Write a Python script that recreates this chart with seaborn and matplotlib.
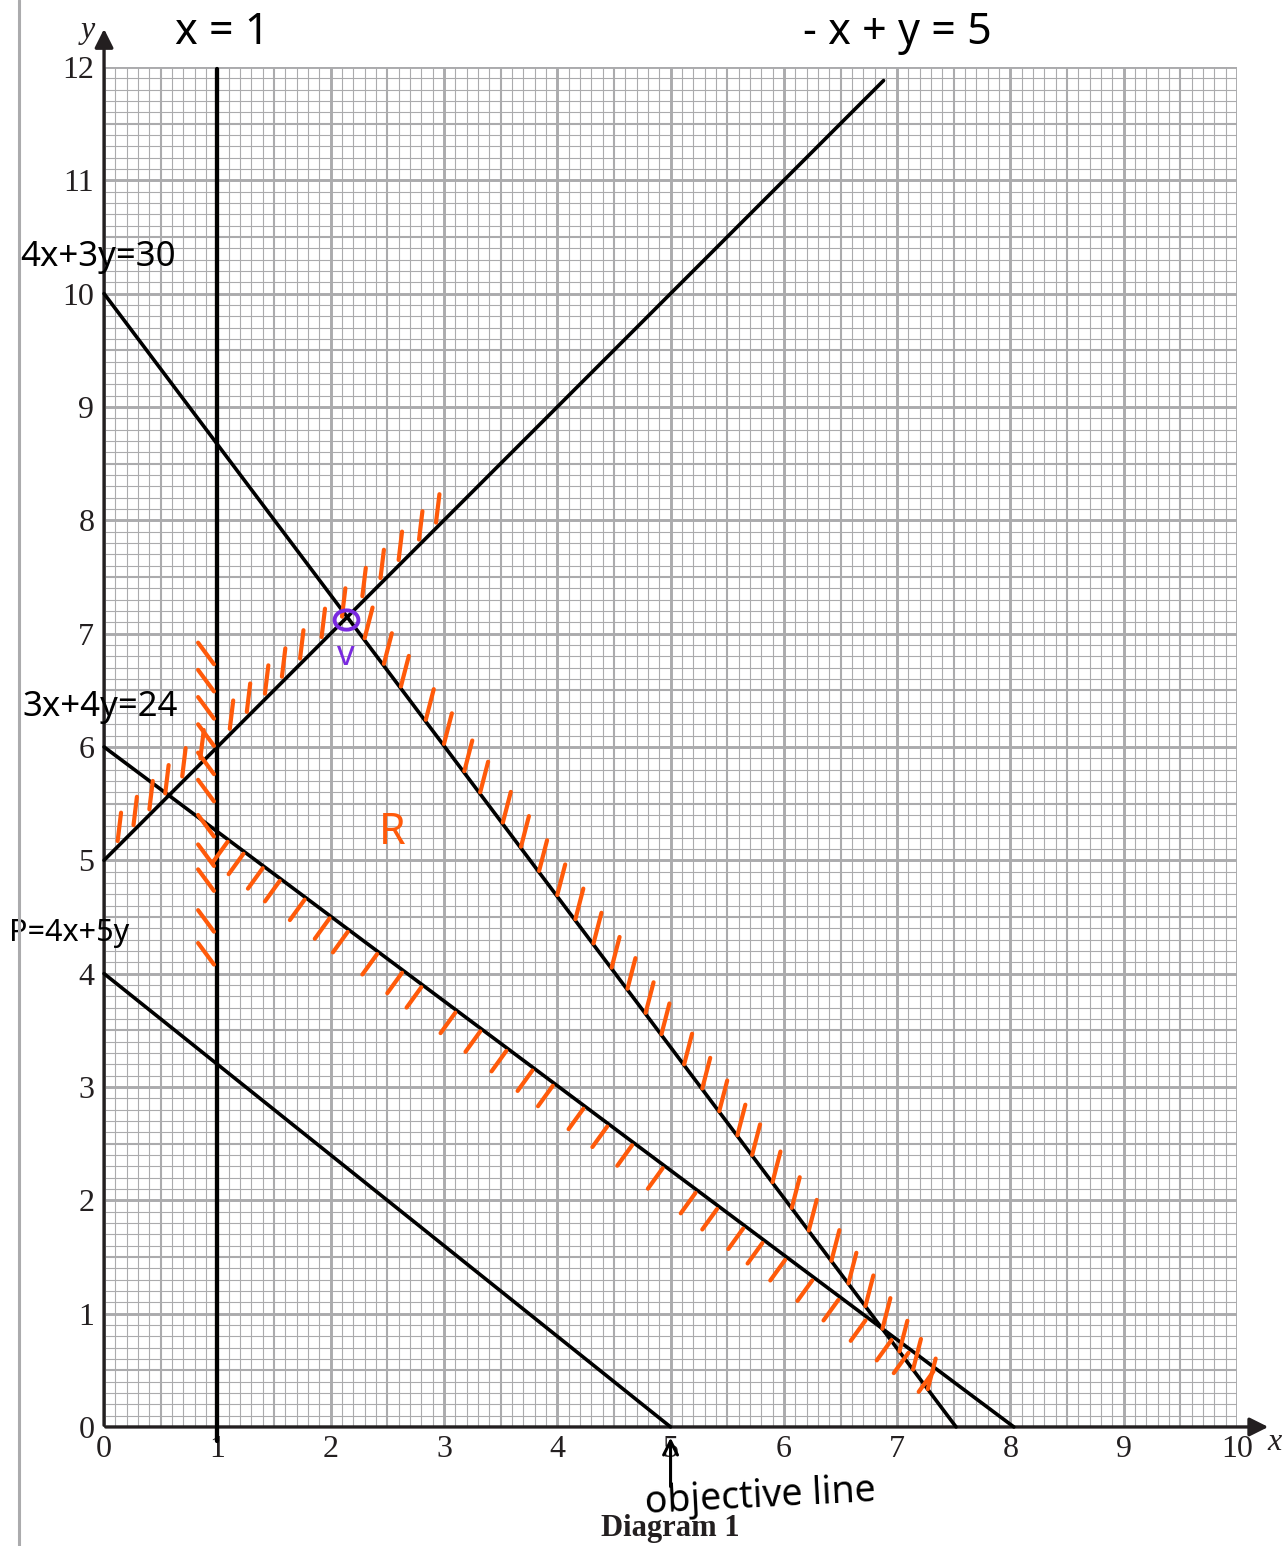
import numpy as np
import pandas as pd
import matplotlib
matplotlib.use("Agg")
import matplotlib.pyplot as plt
import seaborn as sns
from matplotlib.lines import Line2D
from matplotlib.patches import Ellipse

# eixos / rótulos
x_ticks = list(range(0, 11))
y_ticks = list(range(0, 13))

# retas (pontos extremos)
x1_x = [1.0, 1.0]
x1_y = [-0.12, 11.98]
neg_x = [0.0, 6.88]
neg_y = [5.0, 11.88]
c30_x = [0.0, 7.52]
c30_y = [10.0, 0.0]
c24_x = [0.0, 8.03]
c24_y = [6.0, 0.0]
obj_x = [0.0, 5.0]
obj_y = [4.0, 0.0]

# posições das marcas de hachura (laranja)
hatch_x1_y = [6.92, 6.68, 6.44, 6.2, 5.95, 5.71, 5.4, 5.14, 4.92, 4.56, 4.27]
hatch_neg_x = [0.12, 0.26, 0.40, 0.54, 0.69, 0.85, 1.11, 1.26, 1.42, 1.57,
               1.73, 1.92, 2.1, 2.28, 2.44, 2.6, 2.78, 2.93]
hatch_c30_x = [2.28, 2.45, 2.6, 2.82, 2.98, 3.16, 3.3, 3.5, 3.66, 3.82, 3.98,
               4.14, 4.3, 4.46, 4.6, 4.76, 4.9, 5.1, 5.26, 5.41, 5.57, 5.7,
               5.88, 6.05, 6.2, 6.4, 6.55, 6.7, 6.85, 7.0, 7.12, 7.25]
hatch_c24_x = [1.09, 1.23, 1.40, 1.55, 1.77, 1.99, 2.15, 2.41, 2.63, 2.8, 3.1,
               3.32, 3.55, 3.78, 3.96, 4.23, 4.44, 4.66, 4.93, 5.22, 5.41, 5.64,
               5.81, 6.01, 6.25, 6.48, 6.72, 6.95, 7.1, 7.32]

vertex_v = (2.14, 7.12)

sns.set_theme(style="white")
plt.rcParams['font.family'] = ['Liberation Serif', 'DejaVu Serif']

fig = plt.figure(figsize=(12.83, 15.46), dpi=100)
ax = fig.add_axes([0.0811, 0.0770, 0.8831, 0.8797])
ax.set_xlim(0, 10)
ax.set_ylim(0, 12)
for s in ax.spines.values():
    s.set_visible(False)

# papel milimetrado
grid_c = '#ababad'
for i in range(101):
    lw = 2.1 if i % 10 == 0 else (1.5 if i % 5 == 0 else 0.8)
    ax.plot([i / 10, i / 10], [0, 12], color=grid_c, lw=lw, zorder=0)
for j in range(121):
    lw = 2.1 if j % 10 == 0 else (1.5 if j % 5 == 0 else 0.8)
    ax.plot([0, 10], [j / 10, j / 10], color=grid_c, lw=lw, zorder=0)

# eixos com setas
ax.annotate("", xy=(10.3, 0), xytext=(-0.01, 0),
            arrowprops=dict(arrowstyle='-|>', lw=2.4, color='#231f20', mutation_scale=28),
            annotation_clip=False, zorder=3)
ax.annotate("", xy=(0, 12.36), xytext=(0, -0.01),
            arrowprops=dict(arrowstyle='-|>', lw=2.4, color='#231f20', mutation_scale=28),
            annotation_clip=False, zorder=3)

ax.set_xticks(x_ticks)
ax.set_yticks(y_ticks)
ax.set_xticklabels([str(v) for v in x_ticks], fontsize=23, color='#231f20')
ax.set_yticklabels([str(v) for v in y_ticks], fontsize=23, color='#231f20')
ax.tick_params(axis='both', length=0)
ax.tick_params(axis='x', pad=6)
ax.tick_params(axis='y', pad=7)
ax.text(10.33, -0.14, "x", fontsize=23, style='italic', color='#231f20', ha='center', va='center')
ax.text(-0.14, 12.32, "y", fontsize=23, style='italic', color='#231f20', ha='center', va='center')

# retas pretas
for xs, ys in [(x1_x, x1_y), (neg_x, neg_y), (c30_x, c30_y), (c24_x, c24_y), (obj_x, obj_y)]:
    sns.lineplot(x=xs, y=ys, color='black', lw=2.6, estimator=None, sort=False, ax=ax, zorder=4)
for l in ax.lines[-5:]:
    l.set_clip_on(False)
ax.lines[-5].set_linewidth(3.1)

# hachuras
orange = '#ff5a0a'
hk = dict(color=orange, lw=3.0, solid_capstyle='round', zorder=5, clip_on=False)
for y in hatch_x1_y:
    ax.plot([0.83, 0.97], [y, y - 0.19], **hk)
for x in hatch_neg_x:
    yl = x + 5
    ax.plot([x, x + 0.03], [yl + 0.05, yl + 0.3], **hk)
for x in hatch_c30_x:
    yl = (30 - 4 * x) / 3
    ax.plot([x + 0.02, x + 0.09], [yl, yl + 0.27], **hk)
for x in hatch_c24_x:
    yl = (24 - 3 * x) / 4
    ax.plot([x, x - 0.13], [yl - 0.02, yl - 0.2], **hk)

# vértice V
ax.add_patch(Ellipse(vertex_v, 0.21, 0.17, fill=False, ec='#7a2ae0', lw=2.8, zorder=6))
hand = ['Noto Sans', 'DejaVu Sans']
ax.text(2.13, 6.8, "v", fontsize=25, color='#7a2ae0', ha='center', va='center', family=hand,
        fontweight='semibold')
ax.text(2.54, 5.24, "R", fontsize=31, color=orange, ha='center', va='center', family=hand)

# rótulos manuscritos
ax.text(1.04, 12.3, "x = 1", fontsize=31, ha='center', va='center', family=hand,
        fontweight='semibold', color='black')
ax.text(7.0, 12.3, "- x + y = 5", fontsize=31, ha='center', va='center', family=hand,
        fontweight='semibold', color='black')
ax.text(-0.74, 10.32, "4x+3y=30", fontsize=25, ha='left', va='center', family=hand,
        fontweight='semibold', color='black')
ax.text(-0.72, 6.35, "3x+4y=24", fontsize=25, ha='left', va='center', family=hand,
        fontweight='semibold', color='black')
ax.text(-0.84, 4.36, "P=4x+5y", fontsize=22, ha='left', va='center', family=hand,
        fontweight='semibold', color='black')

# linha objetivo
ax.annotate("", xy=(5.0, -0.07), xytext=(5.0, -0.55),
            arrowprops=dict(arrowstyle='->', lw=2.2, color='black', mutation_scale=25),
            annotation_clip=False)
ax.text(5.79, -0.62, "objective line", fontsize=27, ha='center', va='center', family=hand,
        rotation=3, color='black')
ax.text(5.0, -0.9, "Diagram 1", fontsize=22, fontweight='bold', ha='center', va='center',
        color='#231f20')

# margem da página
fig.add_artist(Line2D([19 / 1283, 19 / 1283], [0, 1], color='#ababad', lw=2.2))

fig.savefig("out.png", dpi=100, facecolor='white')
